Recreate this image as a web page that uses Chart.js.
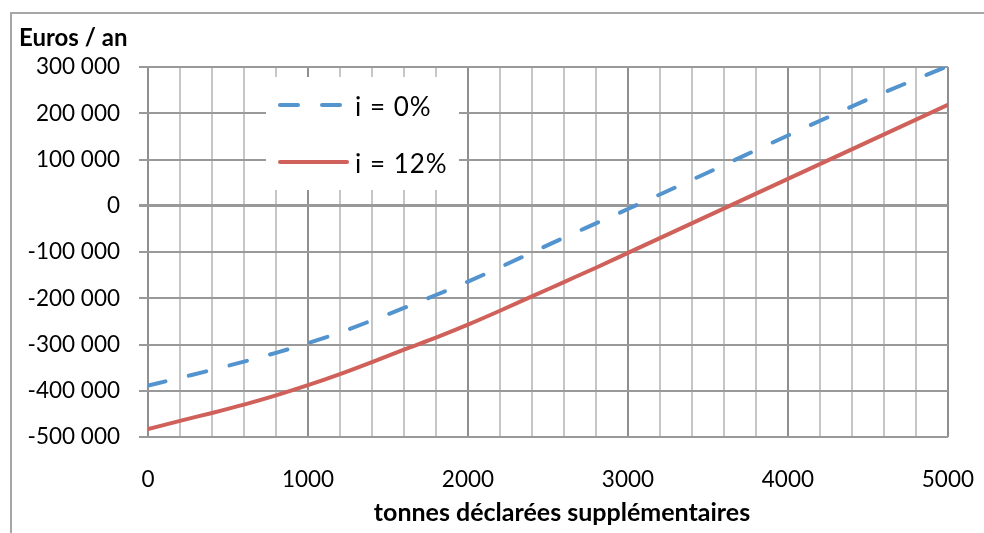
<!DOCTYPE html>
<html>
<head>
<meta charset="utf-8">
<script src="https://cdn.jsdelivr.net/npm/chart.js@4"></script>
<style>
  html, body { margin: 0; padding: 0; background: #fff; }
  #wrap { position: relative; width: 984px; height: 533px; overflow: hidden; }
  #frame { position: absolute; left: 10px; top: 12px; width: 1000px; height: 600px;
           border-top: 2px solid #a6a6a6; border-left: 2px solid #a6a6a6; }
  #chart { position: absolute; left: 0; top: 0; }
  .title { position: absolute; font-family: Lato, sans-serif; font-weight: bold; font-size: 24px;
           line-height: 24px; color: #000; white-space: nowrap; }
  #ytitle { left: 19px; top: 25px; }
  #xtitle { left: 562px; top: 499px; font-size: 25px; transform: translateX(-50%); }
</style>
</head>
<body>
<div id="wrap">
  <div id="frame"></div>
  <canvas id="chart" width="984" height="533"></canvas>
  <div class="title" id="ytitle">Euros / an</div>
  <div class="title" id="xtitle">tonnes déclarées supplémentaires</div>
</div>
<script>
// tonnes déclarées supplémentaires
const tonnes = [0, 200, 400, 600, 800, 1000, 1200, 1400, 1600, 1800, 2000, 2200, 2400, 2600, 2800, 3000, 3500, 4000, 4500, 5000];
// euros / an, i = 0%
const euros0 = [-389000, -372000, -355000, -337000, -318000, -297000, -274000, -248000, -221000, -193000, -164000, -133000, -101000, -69000, -38000, -7000, 72000, 152000, 230000, 302000];
// euros / an, i = 12%
const euros12 = [-483000, -465000, -448000, -430000, -410000, -388000, -364000, -338000, -311000, -285000, -257000, -227000, -196000, -165000, -134000, -102000, -22000, 58000, 138000, 218000];

const seriesLabels = ['i = 0%', 'i = 12%'];
const yMin = -500000, yMax = 300000, yStep = 100000;
const xMin = 0, xMax = 5000, xStep = 200, xLabelStep = 1000;

const fmt = v => String(v).replace(/\B(?=(\d{3})+(?!\d))/g, ' ');

const legendBox = {
  id: 'legendBox',
  beforeDatasetsDraw(chart) {
    const c = chart.ctx;
    c.save();
    c.fillStyle = '#fff';
    c.fillRect(266, 77, 193, 113);
    chart.data.datasets.forEach((ds, i) => {
      const y = 105 + i * 57;
      c.strokeStyle = ds.borderColor;
      c.lineWidth = ds.borderWidth;
      c.lineCap = 'round';
      c.setLineDash(ds.borderDash || []);
      c.beginPath();
      c.moveTo(280, y);
      c.lineTo(i === 0 ? 340 : 347, y);
      c.stroke();
      c.setLineDash([]);
      c.fillStyle = '#000';
      c.font = '26px Lato';
      c.letterSpacing = '1px';
      c.textBaseline = 'middle';
      c.fillText(ds.label, 355, y + 3);
    });
    c.restore();
  }
};

new Chart(document.getElementById('chart'), {
  type: 'line',
  data: {
    datasets: [{
      label: seriesLabels[0],
      data: tonnes.map((t, i) => ({ x: t, y: euros0[i] })),
      borderColor: '#5394cf',
      borderWidth: 4,
      borderDash: [18, 24],
      borderCapStyle: 'round',
      pointRadius: 0,
      cubicInterpolationMode: 'monotone'
    }, {
      label: seriesLabels[1],
      data: tonnes.map((t, i) => ({ x: t, y: euros12[i] })),
      borderColor: '#d0605a',
      borderWidth: 4,
      borderCapStyle: 'round',
      pointRadius: 0,
      cubicInterpolationMode: 'monotone'
    }]
  },
  options: {
    responsive: false,
    animation: false,
    layout: { padding: { top: 67, right: 10, left: 0, bottom: 0 } },
    plugins: { legend: { display: false }, tooltip: { enabled: false } },
    scales: {
      x: {
        type: 'linear',
        min: xMin, max: xMax,
        afterFit: s => { s.height = 96; },
        border: { display: false },
        grid: {
          color: ctx => (ctx.tick && ctx.tick.value % xLabelStep === 0) ? '#8f8f8f' : '#c6c6c6',
          lineWidth: 2,
          drawTicks: true,
          tickLength: 19,
          tickColor: 'rgba(0,0,0,0)'
        },
        ticks: {
          stepSize: xStep,
          autoSkip: false,
          maxRotation: 0,
          padding: 10,
          color: '#000',
          font: { family: 'Lato', size: 22.5 },
          callback: v => v % xLabelStep === 0 ? String(v) : ''
        }
      },
      y: {
        min: yMin, max: yMax,
        afterFit: s => { s.width = 148; },
        border: { display: false },
        grid: {
          color: '#999',
          lineWidth: ctx => (ctx.tick && ctx.tick.value === 0) ? 3 : 2,
          tickLength: 9
        },
        ticks: {
          stepSize: yStep,
          padding: 19,
          color: '#000',
          font: { family: 'Lato', size: 22.5 },
          callback: v => fmt(v)
        }
      }
    }
  },
  plugins: [legendBox]
});
</script>
</body>
</html>
